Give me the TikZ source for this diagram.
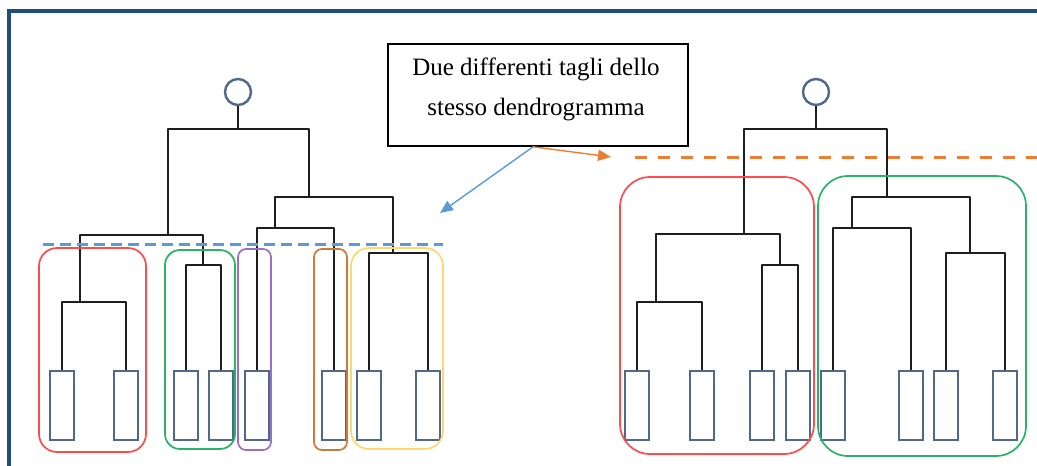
\documentclass[tikz,border=0pt]{standalone}
\usepackage{fontspec}
\setmainfont{Liberation Serif}
\usetikzlibrary{arrows.meta}
\definecolor{framec}{RGB}{31,78,121}
\definecolor{leafc}{RGB}{80,105,138}
\definecolor{treec}{RGB}{30,30,30}
\definecolor{gred}{RGB}{255,75,75}
\definecolor{ggreen}{RGB}{40,180,100}
\definecolor{gpurple}{RGB}{155,110,200}
\definecolor{gbrown}{RGB}{205,120,60}
\definecolor{gyellow}{RGB}{255,215,110}
\definecolor{cutblue}{RGB}{91,155,213}
\definecolor{cutorange}{RGB}{237,125,49}
\tikzset{
  leaf/.style={draw=leafc, line width=2.4pt, minimum width=24pt, minimum height=69pt, inner sep=0pt, anchor=north},
  rootc/.style={circle, draw=leafc, line width=2.4pt, minimum size=26pt, inner sep=0pt},
  tree/.style={draw=treec, line width=2.5pt, line join=round},
  grp/.style={line width=1.7pt, rounded corners=#1},
  cut/.style={line width=3pt, dash pattern=on 11pt off 6pt},
  callout/.style={draw=black, line width=1.6pt, minimum width=300pt, minimum height=102pt, inner sep=0pt},
  calltext/.style={font=\fontsize{25}{40}\selectfont, align=center, inner sep=0pt},
  pointer/.style={line width=1.4pt, -{Triangle[length=13pt,width=11pt]}}
}
\begin{document}
\begin{tikzpicture}[x=1pt,y=-1pt]
\useasboundingbox (0,0) rectangle (1037,466);
% frame
\draw[framec, line width=4pt] (8.5,466) -- (8.5,11) -- (1037,11);

% ---------- left dendrogram ----------
\node[rootc] (R1) at (238,92) {};
\node[leaf] (A1) at (62,370) {};
\node[leaf] (A2) at (126,370) {};
\node[leaf] (A3) at (186,370) {};
\node[leaf] (A4) at (221,370) {};
\node[leaf] (A5) at (257,370) {};
\node[leaf] (A6) at (334,370) {};
\node[leaf] (A7) at (369,370) {};
\node[leaf] (A8) at (428,370) {};
\coordinate (ma) at (80,302);
\coordinate (mb) at (203,265);
\coordinate (mc) at (168,235);
\coordinate (me) at (275,228);
\coordinate (mf) at (393,253);
\coordinate (md) at (309,197);
\coordinate (mtop) at (238,129);
\draw[tree] (A1.north) |- (ma) -| (A2.north);
\draw[tree] (A3.north) |- (mb) -| (A4.north);
\draw[tree] (ma) |- (mc) -| (mb);
\draw[tree] (A5.north) |- (me) -| (A6.north);
\draw[tree] (A7.north) |- (mf) -| (A8.north);
\draw[tree] (me) |- (md) -| (mf);
\draw[tree] (mc) |- (mtop) -| (md);
\draw[tree] (mtop) -- (R1.south);

% ---------- right dendrogram ----------
\node[rootc] (R2) at (816,92) {};
\node[leaf] (B1) at (637,370) {};
\node[leaf] (B2) at (702,370) {};
\node[leaf] (B3) at (762,370) {};
\node[leaf] (B4) at (798,370) {};
\node[leaf] (B5) at (833,370) {};
\node[leaf] (B6) at (911,370) {};
\node[leaf] (B7) at (946,370) {};
\node[leaf] (B8) at (1005,370) {};
\coordinate (na) at (656,302);
\coordinate (nb) at (780,265);
\coordinate (nc) at (744,234);
\coordinate (ne) at (852,228);
\coordinate (nf) at (970,253);
\coordinate (nd) at (887,197);
\coordinate (ntop) at (816,129);
\draw[tree] (B1.north) |- (na) -| (B2.north);
\draw[tree] (B3.north) |- (nb) -| (B4.north);
\draw[tree] (na) |- (nc) -| (nb);
\draw[tree] (B5.north) |- (ne) -| (B6.north);
\draw[tree] (B7.north) |- (nf) -| (B8.north);
\draw[tree] (ne) |- (nd) -| (nf);
\draw[tree] (nc) |- (ntop) -| (nd);
\draw[tree] (ntop) -- (R2.south);

% ---------- cluster groups ----------
\draw[grp=18pt, gred] (39,248) rectangle (146,452);
\draw[grp=15pt, ggreen] (165,250) rectangle (235,449);
\draw[grp=8pt, gpurple] (238,249) rectangle (271,450);
\draw[grp=8pt, gbrown] (314,249) rectangle (347,450);
\draw[grp=18pt, gyellow] (351,248) rectangle (443,449);
\draw[grp=30pt, gred] (620,177) rectangle (814,454);
\draw[grp=30pt, ggreen] (818,176) rectangle (1026,456);

% ---------- cut lines ----------
\draw[cut, cutblue] (43,244) -- (443,244);
\draw[cut, cutorange, dash pattern=on 12pt off 11pt] (635,157) -- (1037,157);

% ---------- callout ----------
\node[callout] (callout) at (538,95) {};
\node[calltext] (ctext) at (536,89) {Due differenti tagli dello\\stesso dendrogramma};
\coordinate (bluetip) at (440,213);
\coordinate (orangetip) at (611,157);
\draw[pointer, cutblue] ([xshift=-5pt]callout.south) -- (bluetip);
\draw[pointer, cutorange] ([xshift=-5pt]callout.south) -- (orangetip);
\end{tikzpicture}
\end{document}
